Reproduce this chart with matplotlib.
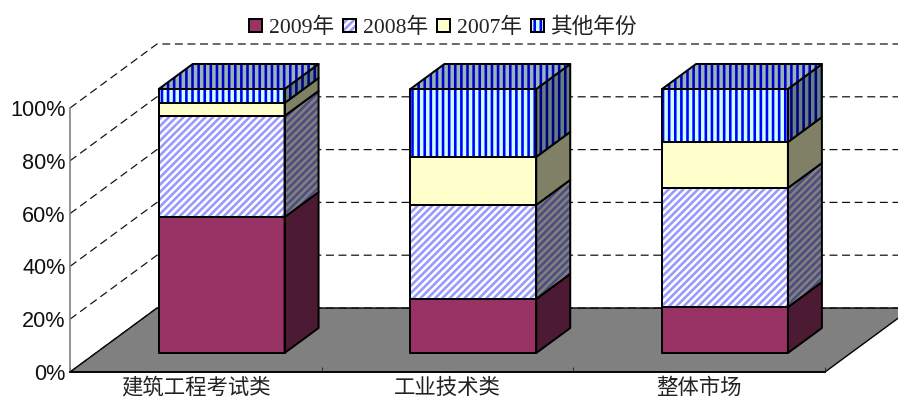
import matplotlib
matplotlib.use('Agg')
import numpy as np
from matplotlib import pyplot as plt
from matplotlib.patches import Polygon, Patch
from matplotlib.legend_handler import HandlerTuple

categorias = ['建筑工程考试类', '工业技术类', '整体市场']
series = ['2009年', '2008年', '2007年', '其他年份']
v2009 = [51.5, 20.5, 17.4]
v2008 = [38.3, 35.6, 45.1]
v2007 = [4.9, 18.2, 17.4]
otros = [5.3, 25.7, 20.1]
y_ticks = [0, 20, 40, 60, 80, 100]
y_labels = ['0%', '20%', '40%', '60%', '80%', '100%']

DPI = 110
plt.rcParams['hatch.linewidth'] = 1.7
SERIF = ['Liberation Serif', 'Noto Sans CJK SC']
CJK = ['Noto Sans CJK SC', 'DejaVu Sans']
GRIS_TXT = '#222222'

# vector de profundidad en unidades de datos
DX = 87 / (755 / 3)
DY = 64 / 2.64
ANCHO = 0.5
D_FRENTE = 19 / 64
D_FONDO = 44 / 64

# (fondo, trama) para frente, costado y tapa
estilos = [
    dict(f=('#993366', None), s=('#4d1a33', None), t=('#7a2952', None), h=None),
    dict(f=('#ffffff', '#9999ff'), s=('#808080', '#4d4d80'), t=('#cccccc', '#7a7acc'), h='/////'),
    dict(f=('#ffffcc', None), s=('#808066', None), t=('#cccca3', None), h=None),
    dict(f=('#ccffff', '#0000ff'), s=('#668080', '#000080'), t=('#99b3b3', '#0000cc'), h='|||'),
]

fig = plt.figure(figsize=(899 / DPI, 400 / DPI), dpi=DPI)
ax = fig.add_axes([70 / 899, 28 / 400, 755 / 899, 264 / 400])
ax.set_xlim(0, 3)
ax.set_ylim(0, 100)


def cara(puntos, color, hatch=None, z=3):
    """Dibuja una cara del prisma con su trama y su contorno negro."""
    fondo, trama = color
    if trama is None:
        ax.add_patch(Polygon(puntos, facecolor=fondo, edgecolor='none', clip_on=False, zorder=z))
    else:
        ax.add_patch(Polygon(puntos, facecolor=fondo, edgecolor=trama, hatch=hatch,
                             linewidth=0, clip_on=False, zorder=z))
    ax.add_patch(Polygon(puntos, fill=False, edgecolor='black', linewidth=1.3,
                         clip_on=False, zorder=z + 0.1, joinstyle='round'))


# piso gris
ax.add_patch(Polygon([(0, 0), (3, 0), (3 + DX, DY), (DX, DY)], facecolor='#808080',
                     edgecolor='black', linewidth=0.9, clip_on=False, zorder=1))

# grilla punteada: pared izquierda y pared de fondo
for t in y_ticks:
    ax.plot([0, DX, 3 + DX], [t, t + DY, t + DY], color='#111111', linewidth=0.8,
            linestyle=(0, (6.5, 3.8)), clip_on=False, zorder=1.5)

# barras apiladas
valores = np.array([v2009, v2008, v2007, otros])
for i in range(len(categorias)):
    x0 = i + 0.5 - ANCHO / 2 + DX * D_FRENTE
    x1 = x0 + ANCHO
    base = DY * D_FRENTE
    dx = DX * (D_FONDO - D_FRENTE)
    dy = DY * (D_FONDO - D_FRENTE)
    acum = 0
    for j, est in enumerate(estilos):
        y0 = base + acum
        y1 = y0 + valores[j][i]
        cara([(x1, y0), (x1 + dx, y0 + dy), (x1 + dx, y1 + dy), (x1, y1)], est['s'], est['h'], 3 + j * 0.2)
        cara([(x0, y0), (x1, y0), (x1, y1), (x0, y1)], est['f'], est['h'], 3 + j * 0.2)
        acum += valores[j][i]
    top = base + acum
    est = estilos[-1]
    cara([(x0, top), (x1, top), (x1 + dx, top + dy), (x0 + dx, top + dy)], est['t'], est['h'], 4)

# ejes
for lado in ['top', 'right']:
    ax.spines[lado].set_visible(False)
ax.spines['left'].set_color('#808080')
ax.spines['left'].set_linewidth(1.1)
ax.spines['bottom'].set_color('black')
ax.spines['bottom'].set_linewidth(1.1)
ax.patch.set_alpha(0)

ax.set_yticks(y_ticks)
ax.set_yticklabels(y_labels, family=['Liberation Sans'], fontsize=14.2, color='#111111')
ax.tick_params(axis='y', length=0, pad=3)
ax.set_xticks([0, 1, 2, 3])
ax.set_xticklabels([])
ax.tick_params(axis='x', which='major', direction='in', length=3.5, width=0.7, color='#333333')
ax.set_xticks([0.5, 1.5, 2.5], minor=True)
ax.set_xticklabels(categorias, minor=True, family=CJK, fontsize=14, color=GRIS_TXT, fontweight='light')
ax.tick_params(axis='x', which='minor', length=0, pad=3)

# leyenda: relleno con trama y contorno negro superpuestos
handles = []
for nombre, est in zip(series, estilos):
    fondo, trama = est['f']
    relleno = Patch(facecolor=fondo, edgecolor=trama if trama else 'none', hatch=est['h'], linewidth=0)
    borde = Patch(fill=False, edgecolor='black', linewidth=1.3)
    handles.append((relleno, borde))
leg = fig.legend(handles, series, ncol=4, loc='center', bbox_to_anchor=(443 / 899, 1 - 28 / 400), frameon=False,
                 handler_map={tuple: HandlerTuple(ndivide=1, pad=0)},
                 prop={'family': SERIF, 'size': 14.2}, handlelength=0.6, handleheight=0.6,
                 handletextpad=0.3, columnspacing=0.43, borderpad=0, borderaxespad=0)
for txt in leg.get_texts():
    txt.set_color(GRIS_TXT)

fig.savefig('out.png', dpi=DPI)
